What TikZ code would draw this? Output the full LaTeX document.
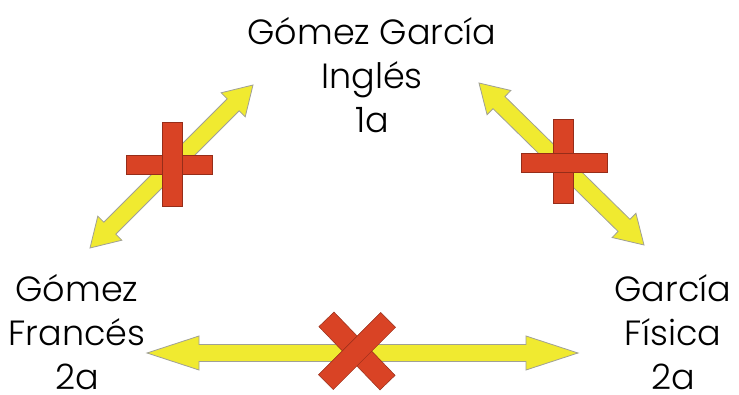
\documentclass[tikz,border=0pt]{standalone}
\usepackage{fontspec}
\setmainfont{Poppins}[UprightFont=* Light]
\usetikzlibrary{calc}

\definecolor{arrowyellow}{RGB}{240,234,48}
\definecolor{arrowrim}{RGB}{160,160,150}
\definecolor{crossred}{RGB}{217,67,37}
\definecolor{crossrim}{RGB}{150,45,25}

% fat double-headed arrow between two named points
% #2 from, #3 to, #4 head length, #5 head half width, #6 shaft half width
\newcommand{\dblarrow}[6][]{%
  \draw[fatarrow,#1] (#2)
    -- ($(#2)!#4!(#3)!#5!90:(#3)$)
    -- ($(#2)!#4!(#3)!#6!90:(#3)$)
    -- ($(#3)!#4!(#2)!#6!-90:(#2)$)
    -- ($(#3)!#4!(#2)!#5!-90:(#2)$)
    -- (#3)
    -- ($(#3)!#4!(#2)!#5!90:(#2)$)
    -- ($(#3)!#4!(#2)!#6!90:(#2)$)
    -- ($(#2)!#4!(#3)!#6!-90:(#3)$)
    -- ($(#2)!#4!(#3)!#5!-90:(#3)$)
    -- cycle;}

\begin{document}
\begin{tikzpicture}[
  x=1pt,y=-1pt,
  lab/.style={align=center,inner sep=0pt,anchor=base,text depth=0pt,
              font=\fontsize{35}{44}\selectfont},
  fatarrow/.style={fill=arrowyellow,draw=arrowrim,line width=0.8pt,line join=miter},
  bar/.style={rectangle,fill=crossred,draw=crossrim,line width=0.5pt,inner sep=0pt},
]
\useasboundingbox (0,0) rectangle (739,395);

% ---- the three classes (base = last line) --------------------------------
\node[lab] (ingles)  at (372,133) {Gómez García\\Inglés\\1a};
\node[lab] (frances) at (77,389)  {Gómez\\Francés\\2a};
\node[lab] (fisica)  at (673,389) {García\\Física\\2a};

% ---- arrow ends ----------------------------------------------------------
\coordinate (frIn) at (90,248);
\coordinate (inFr) at (253,85);
\coordinate (inFi) at (479,83);
\coordinate (fiIn) at (644,245);
\coordinate (frFi) at (147,353);
\coordinate (fiFr) at (578,353);

\dblarrow{frIn}{inFr}{28pt}{17pt}{8.5pt}
\dblarrow{inFi}{fiIn}{28pt}{17pt}{8.5pt}
\dblarrow{frFi}{fiFr}{52pt}{17pt}{8.5pt}

% ---- allowed: plus signs -------------------------------------------------
\node[bar,minimum width=86pt,minimum height=19pt] (plusLh) at (169,164.5) {};
\node[bar,minimum width=20pt,minimum height=84pt] (plusLv) at (172,164) {};
\node[bar,minimum width=20pt,minimum height=84pt] (plusRv) at (563,161) {};
\node[bar,minimum width=86pt,minimum height=19pt] (plusRh) at (564,162.5) {};

% ---- not allowed: cross --------------------------------------------------
\node[bar,minimum width=88pt,minimum height=21pt,rotate=-46] (crossA) at (357,351) {};
\node[bar,minimum width=88pt,minimum height=21pt,rotate=45]  (crossB) at (357,351) {};

\end{tikzpicture}
\end{document}
